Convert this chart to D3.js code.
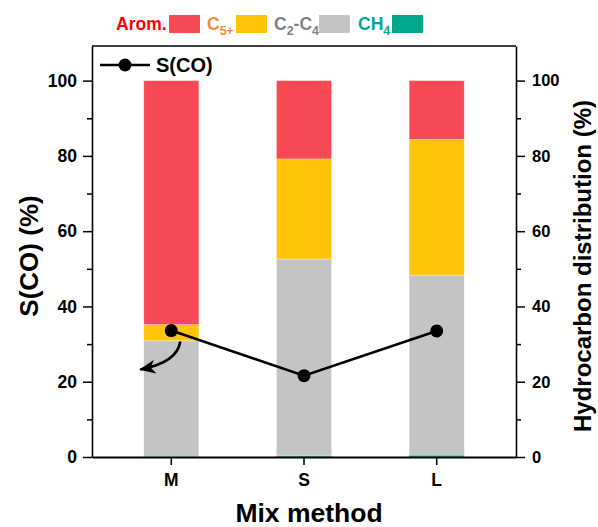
<!DOCTYPE html>
<html>
<head>
<meta charset="utf-8">
<script src="https://cdn.jsdelivr.net/npm/d3@7/dist/d3.min.js"></script>
<style>
  html, body { margin: 0; padding: 0; background: #fff; }
  svg { display: block; font-family: "Liberation Sans", Arial, sans-serif; font-weight: bold; }
</style>
</head>
<body>
<svg id="chart" width="598" height="527"></svg>
<script>
// Mixing methods on the x axis
const methods = ["M", "S", "L"];

// Hydrocarbon distribution (%) per method, stacked bottom to top
const ch4   = [0.2, 0.3, 0.5];
const c2c4  = [30.7, 52.3, 47.8];
const c5p   = [4.3, 26.6, 36.1];
const arom  = [64.8, 20.8, 15.6];

// CO selectivity (%) per method
const sCO = [33.6, 21.6, 33.5];

// Axis ticks
const yTicks = [0, 20, 40, 60, 80, 100];
const yMinor = [10, 30, 50, 70, 90];

const seriesKeys = ["CH4", "C2C4", "C5p", "Arom"];
const colors = { CH4: "#00A98B", C2C4: "#C4C4C4", C5p: "#FFC408", Arom: "#F84A55" };

const rows = methods.map((m, i) => ({ method: m, CH4: ch4[i], C2C4: c2c4[i], C5p: c5p[i], Arom: arom[i] }));

const svg = d3.select("#chart");
const plot = { left: 92, right: 516, top: 46, bottom: 457 };

const x = d3.scaleBand()
  .domain(methods)
  .range([plot.left, plot.right])
  .paddingInner(0.585)
  .paddingOuter(0.39);

const y = d3.scaleLinear().domain([0, 109.2]).range([plot.bottom, plot.top]);

// Stacked bars
const stack = d3.stack().keys(seriesKeys)(rows);
svg.append("g").selectAll("g")
  .data(stack)
  .join("g")
  .attr("fill", d => colors[d.key])
  .selectAll("rect")
  .data(d => d)
  .join("rect")
  .attr("x", d => x(d.data.method))
  .attr("width", x.bandwidth())
  .attr("y", d => y(d[1]))
  .attr("height", d => y(d[0]) - y(d[1]))
  .attr("stroke", "#ffffff")
  .attr("stroke-opacity", 0.35)
  .attr("stroke-width", 0.8);

// Frame: top border
svg.append("line")
  .attr("x1", plot.left).attr("x2", plot.right)
  .attr("y1", plot.top).attr("y2", plot.top)
  .attr("stroke", "#000").attr("stroke-width", 1.5);

function styleAxis(g) {
  g.selectAll("path.domain").attr("stroke", "#000").attr("stroke-width", 1.6);
  g.selectAll(".tick line").attr("stroke", "#000").attr("stroke-width", 1.5);
  g.selectAll(".tick text").attr("fill", "#000")
    .style("font-family", "'Liberation Sans', Arial, sans-serif")
    .style("font-weight", "bold");
}

// Left axis
const yLeft = svg.append("g")
  .attr("transform", `translate(${plot.left},0)`)
  .call(d3.axisLeft(y).tickValues(yTicks).tickSize(9).tickPadding(6).tickSizeOuter(0));
yLeft.selectAll(".tick text").style("font-size", "17.5px");
styleAxis(yLeft);
svg.append("g")
  .attr("transform", `translate(${plot.left},0)`)
  .call(d3.axisLeft(y).tickValues(yMinor).tickSize(5).tickFormat("").tickSizeOuter(0))
  .call(g => { g.select("path.domain").remove(); g.selectAll(".tick line").attr("stroke", "#000").attr("stroke-width", 1.5); });

// Right axis
const yRight = svg.append("g")
  .attr("transform", `translate(${plot.right},0)`)
  .call(d3.axisRight(y).tickValues(yTicks).tickSize(9).tickPadding(7).tickSizeOuter(0));
yRight.selectAll(".tick text").style("font-size", "16.5px");
styleAxis(yRight);
svg.append("g")
  .attr("transform", `translate(${plot.right},0)`)
  .call(d3.axisRight(y).tickValues(yMinor).tickSize(5).tickFormat("").tickSizeOuter(0))
  .call(g => { g.select("path.domain").remove(); g.selectAll(".tick line").attr("stroke", "#000").attr("stroke-width", 1.5); });

// Bottom axis
const xAxis = svg.append("g")
  .attr("transform", `translate(0,${plot.bottom})`)
  .call(d3.axisBottom(x).tickSize(8).tickPadding(9).tickSizeOuter(0));
xAxis.selectAll(".tick text").style("font-size", "17.5px");
styleAxis(xAxis);
xAxis.select("path.domain").attr("stroke-width", 2);

// Axis titles
svg.append("text")
  .attr("transform", `translate(38,256) rotate(-90)`)
  .attr("text-anchor", "middle")
  .style("font-size", "26px")
  .text("S(CO) (%)");

svg.append("text")
  .attr("transform", `translate(591,266) rotate(-90)`)
  .attr("text-anchor", "middle")
  .style("font-size", "24px")
  .text("Hydrocarbon distribution (%)");

svg.append("text")
  .attr("x", 309)
  .attr("y", 522)
  .attr("text-anchor", "middle")
  .style("font-size", "26.5px")
  .text("Mix method");

// CO selectivity line with markers
const cx = m => x(m) + x.bandwidth() / 2;
const line = d3.line().x((d, i) => cx(methods[i])).y(d => y(d));
svg.append("path")
  .datum(sCO)
  .attr("d", line)
  .attr("fill", "none")
  .attr("stroke", "#000")
  .attr("stroke-width", 2.6);
svg.append("g").selectAll("circle")
  .data(sCO)
  .join("circle")
  .attr("cx", (d, i) => cx(methods[i]))
  .attr("cy", d => y(d))
  .attr("r", 6.5)
  .attr("fill", "#000");

// Curved arrow pointing from the M point toward the left axis
svg.append("defs").append("marker")
  .attr("id", "arrowhead")
  .attr("viewBox", "0 0 14 12")
  .attr("refX", 13).attr("refY", 6)
  .attr("markerUnits", "userSpaceOnUse")
  .attr("markerWidth", 17).attr("markerHeight", 14)
  .attr("orient", "auto")
  .append("path")
  .attr("d", "M0,0 L14,6 L0,12 L4,6 Z")
  .attr("fill", "#000");
const mx = cx("M"), my = y(sCO[0]);
svg.append("path")
  .attr("d", `M${mx + 9},${my + 11} Q${mx + 6},${my + 32} ${mx - 31},${my + 39}`)
  .attr("fill", "none")
  .attr("stroke", "#000")
  .attr("stroke-width", 2.6)
  .attr("marker-end", "url(#arrowhead)");

// Line legend inside the plot
const lg = svg.append("g");
lg.append("line").attr("x1", 100).attr("x2", 150).attr("y1", 65).attr("y2", 65)
  .attr("stroke", "#000").attr("stroke-width", 2.6);
lg.append("circle").attr("cx", 125).attr("cy", 65).attr("r", 6.5).attr("fill", "#000");
lg.append("text").attr("x", 156).attr("y", 72).style("font-size", "20px").text("S(CO)");

// Bar legend across the top
const legendItems = [
  { key: "Arom", textColor: "#FF0000", parts: [["Arom.", false]], tx: 116, bx: 169 },
  { key: "C5p", textColor: "#F58A33", parts: [["C", false], ["5+", true]], tx: 207, bx: 236 },
  { key: "C2C4", textColor: "#808080", parts: [["C", false], ["2", true], ["-C", false], ["4", true]], tx: 274, bx: 319 },
  { key: "CH4", textColor: "#00A98B", parts: [["CH", false], ["4", true]], tx: 358, bx: 392 }
];
const leg = svg.append("g");
legendItems.forEach(it => {
  const t = leg.append("text")
    .attr("x", it.tx).attr("y", 30)
    .attr("fill", it.textColor)
    .style("font-size", "17.5px");
  it.parts.forEach(([s, sub]) => {
    const ts = t.append("tspan").text(s);
    if (sub) ts.attr("dy", 5).style("font-size", "12.5px");
    else ts.attr("dy", t.selectAll("tspan").size() > 1 ? -5 : 0);
  });
  leg.append("rect")
    .attr("x", it.bx).attr("y", 15)
    .attr("width", 31).attr("height", 18)
    .attr("fill", colors[it.key]);
});
</script>
</body>
</html>
